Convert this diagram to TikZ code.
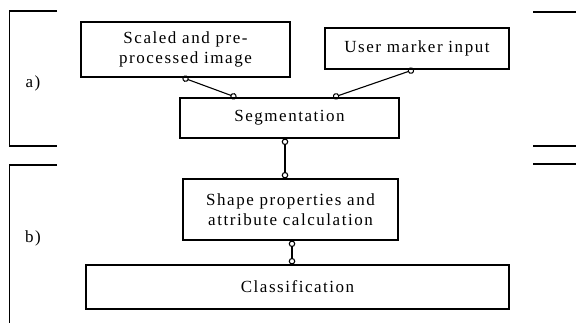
\documentclass[tikz,border=0pt]{standalone}
\usepackage{fontspec}
\setmainfont{Liberation Serif}[LetterSpace=9]
\usepackage{tikz}
\usetikzlibrary{arrows.meta}

\begin{document}
\begin{tikzpicture}[
x=1pt,y=-1pt,
box/.style={draw,line width=1.1pt,align=center,inner sep=0pt,font=\fontsize{17}{20}\selectfont},
link/.style={{Circle[open,length=6.5pt,width=6.5pt]}-{Circle[open,length=6.5pt,width=6.5pt]},line width=1.1pt},
bracket/.style={line width=1.1pt},
tag/.style={font=\fontsize{17}{20}\selectfont}
]
\useasboundingbox (0,0) rectangle (576,323);
\node[box,minimum width=209pt,minimum height=55pt] (img) at (185.5,49.5) {Scaled and pre-\\processed image};
\node[box,minimum width=184pt,minimum height=41pt] (marker) at (417,48.5) {User marker input};
\node[box,minimum width=219pt,minimum height=40pt] (seg) at (289.5,118) {Segmentation};
\node[box,minimum width=215pt,minimum height=61pt] (shape) at (290.5,209.5) {Shape properties and\\attribute calculation};
\node[box,minimum width=423pt,minimum height=44pt] (cls) at (297.5,287) {Classification};
\draw[link] ([xshift=-3pt]img.south) -- ([xshift=-53pt]seg.north);
\draw[link] ([xshift=-3pt]marker.south) -- ([xshift=43.5pt]seg.north);
\draw[link] ([xshift=-4.5pt]seg.south) -- ([xshift=-5.5pt]shape.north);
\draw[link] ([xshift=1.5pt]shape.south) -- ([xshift=-5.5pt]cls.north);
% part brackets
\draw[bracket] (57,11) -- (9.5,11) -- (9.5,146) -- (57,146);
\draw[bracket] (57,165) -- (9.5,165) -- (9.5,323);
\draw[bracket] (533,12) -- (576,12) (533,146) -- (576,146) (533,164) -- (576,164);
\node[tag] (parta) at (33,83) {a)};
\node[tag] (partb) at (33,238) {b)};
\end{tikzpicture}
\end{document}
